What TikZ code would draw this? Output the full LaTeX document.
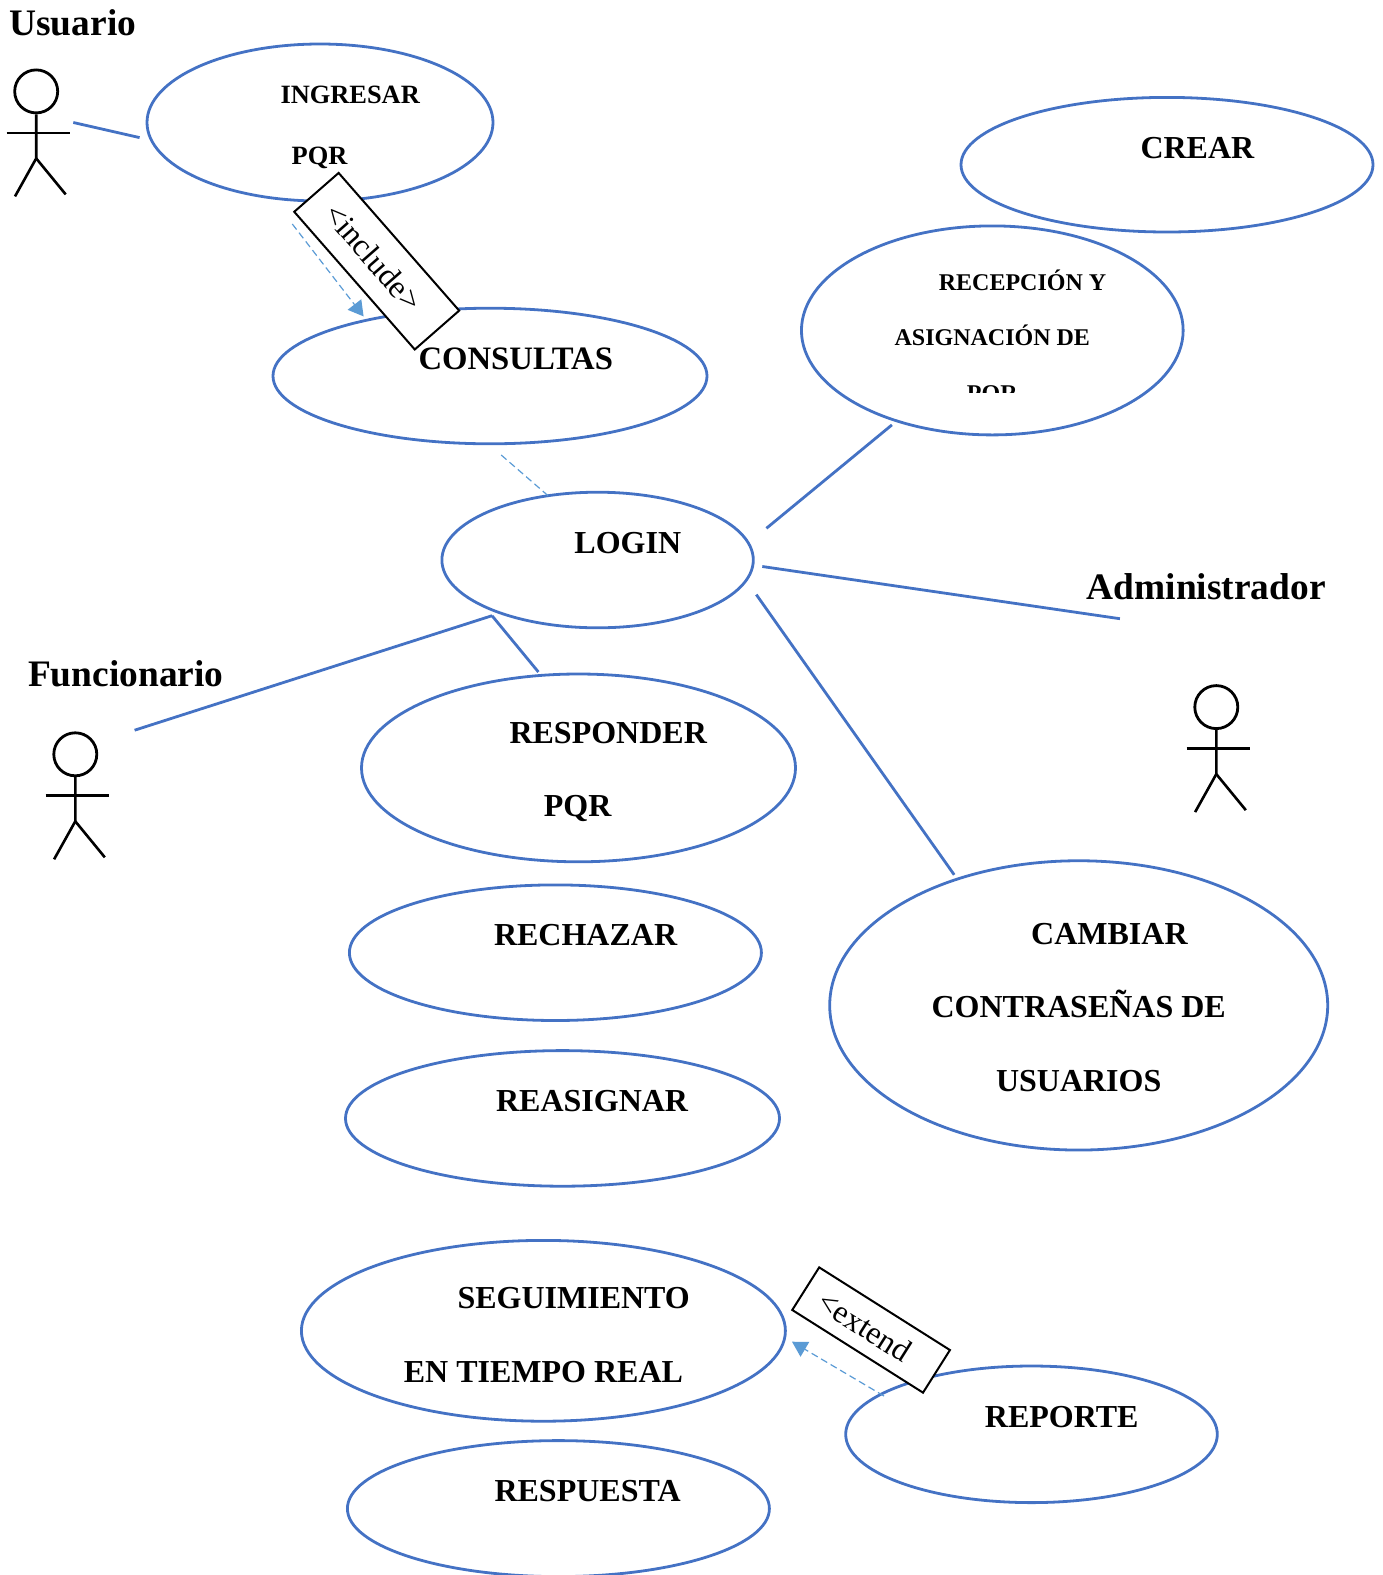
\documentclass[tikz,border=0pt]{standalone}
\usepackage{fontspec}
\setmainfont{Liberation Serif}
\usetikzlibrary{arrows.meta,%
                shapes.geometric}
\definecolor{usecase}{HTML}{4472C4}
\definecolor{depend}{HTML}{5B9BD5}
\tikzstyle{case}=[ellipse, draw=usecase, line width=2.8pt, inner sep=0pt]
\tikzstyle{assoc}=[draw=usecase, line width=2.8pt]
\tikzstyle{dep}=[draw=depend, line width=1.2pt, dash pattern=on 7pt off 4pt, -{Triangle[length=15pt,width=17pt,fill=depend]}]
\tikzstyle{stereo}=[rectangle, draw=black, line width=2pt, fill=white, inner sep=0pt, font=\fontsize{32}{32}\selectfont]
\tikzstyle{lab}=[anchor=base, inner sep=0pt, font=\bfseries\fontsize{32}{32}\selectfont]
\tikzstyle{smalllab}=[anchor=base, inner sep=0pt, font=\bfseries\fontsize{26.4}{26.4}\selectfont]
\tikzstyle{tinylab}=[anchor=base, inner sep=0pt, font=\bfseries\fontsize{24}{24}\selectfont]
\tikzstyle{role}=[anchor=base, inner sep=0pt, font=\bfseries\fontsize{37.4}{37.4}\selectfont]
\tikzset{stick/.pic={
  \node[circle, draw=black, line width=2.8pt, minimum size=43pt, inner sep=0pt] (-head) at (0,0) {};
  \draw[line width=2.6pt] (-head.south) -- (0,67) -- (-21.2,105);
  \draw[line width=2.6pt] (0,67) -- (29.5,103);
  \draw[line width=2.6pt] (-29.6,41.4) -- (33.8,41.4);
}}

\begin{document}
\begin{tikzpicture}[x=1pt,y=-1pt]
  \useasboundingbox (0,0) rectangle (1383,1575);
  % use cases
  \node[case, minimum width=346pt, minimum height=157pt] (ingresar) at (320,122.5) {};
  \node[case, minimum width=412pt, minimum height=134.6pt] (crear) at (1167,164.7) {};
  \node[case, minimum width=381.7pt, minimum height=209pt] (recepcion) at (992.3,330.4) {};
  \node[case, minimum width=434pt, minimum height=135.6pt] (consultas) at (490,376) {};
  \node[case, minimum width=311.4pt, minimum height=135.6pt] (login) at (597.6,560) {};
  \node[case, minimum width=434pt, minimum height=187.8pt] (responder) at (578.5,767.9) {};
  \node[case, minimum width=412pt, minimum height=135.6pt] (rechazar) at (555.4,952.7) {};
  \node[case, minimum width=434pt, minimum height=135.6pt] (reasignar) at (562.5,1118.4) {};
  \node[case, minimum width=498pt, minimum height=289.3pt] (cambiar) at (1078.7,1005.4) {};
  \node[case, minimum width=484pt, minimum height=180.8pt] (seguimiento) at (543.4,1330.8) {};
  \node[case, minimum width=422pt, minimum height=136pt] (respuesta) at (558.4,1508.6) {};
  \node[case, minimum width=371.6pt, minimum height=136.6pt] (reporte) at (1031.5,1434.3) {};
  % actors
  \pic (usuario) at (36.2,91.4) {stick};
  \pic (funcionario) at (75.3,754.3) {stick};
  \pic (administrador) at (1216.3,707.1) {stick};
  % free ends of the connectors
  \coordinate (u1) at (73.3,122.5);
  \coordinate (u2) at (139.6,137.6);
  \coordinate (l1) at (766.4,528.3);
  \coordinate (r1) at (891.9,424.9);
  \coordinate (l2) at (762.3,566.5);
  \coordinate (a1) at (1119.9,618.7);
  \coordinate (l3) at (756.3,594.6);
  \coordinate (c1) at (954.2,874.8);
  \coordinate (f1) at (134.6,730.2);
  \coordinate (l4) at (492,615.7);
  \coordinate (p1) at (538.4,672);
  \coordinate (i1) at (292.3,224);
  \coordinate (i2) at (363.6,316.4);
  \coordinate (d1) at (501.2,455);
  \coordinate (d2) at (549,496.5);
  \coordinate (e1) at (884,1396);
  \coordinate (e2) at (792,1341.7);
  \draw[assoc] (u1) -- (u2);
  \draw[assoc] (l1) -- (r1);
  \draw[assoc] (l2) -- (a1);
  \draw[assoc] (l3) -- (c1);
  \draw[assoc] (f1) -- (l4);
  \draw[assoc] (l4) -- (p1);
  \draw[dep] (i1) -- (i2);
  \draw[dep, -] (d1) -- (d2);
  \draw[dep] (e1) -- (e2);
  % stereotypes
  \node[stereo, rotate=-48.8, minimum width=183pt, minimum height=59pt] (include) at (376.7,261.2) {<include>\kern10pt};
  \node[stereo, rotate=-32.3, minimum width=154.7pt, minimum height=50.4pt] (extend) at (871.1,1330) {<extend\kern14pt};
  % texts
  \node[role] (tusuario) at (72.8,35.8) {Usuario};
  \node[role] (tfuncionario) at (125.8,686.8) {Funcionario};
  \node[role] (tadministrador) at (1206.3,599.4) {Administrador};
  \node[smalllab] (tingresar) at (350.2,103.5) {INGRESAR};
  \node[smalllab] (tpqra) at (319.6,164.2) {PQR};
  \node[lab] (tcrear) at (1197.4,158.7) {CREAR};
  \node[tinylab] (trecepcion) at (1022.5,290.3) {RECEPCIÓN Y};
  \node[tinylab] (tasignacion) at (992.3,345.5) {ASIGNACIÓN DE};
  \begin{scope}
    \clip (880,300) rectangle (1100,392.7);
    \node[tinylab] (tpqrb) at (992.3,401.5) {PQR};
  \end{scope}
  \node[lab, font=\bfseries\fontsize{32.7}{32.7}\selectfont] (tconsultas) at (515.8,369.6) {CONSULTAS};
  \node[lab] (tlogin) at (627.8,553.4) {LOGIN};
  \node[lab] (tresponder) at (608.2,743.3) {RESPONDER};
  \node[lab] (tpqrc) at (577.7,816.6) {PQR};
  \node[lab] (trechazar) at (585.6,945.1) {RECHAZAR};
  \node[lab] (treasignar) at (592.1,1111.9) {REASIGNAR};
  \node[lab] (tcambiar) at (1109.4,944.1) {CAMBIAR};
  \node[lab] (tcontra) at (1078.7,1017.5) {CONTRASEÑAS DE};
  \node[lab] (tusuarios) at (1078.7,1091.8) {USUARIOS};
  \node[lab] (tseguimiento) at (573.7,1308.7) {SEGUIMIENTO};
  \node[lab] (ttiempo) at (543.4,1382) {EN TIEMPO REAL};
  \node[lab] (treporte) at (1061.7,1427.3) {REPORTE};
  \node[lab] (trespuesta) at (587.6,1501.6) {RESPUESTA};
\end{tikzpicture}
\end{document}
